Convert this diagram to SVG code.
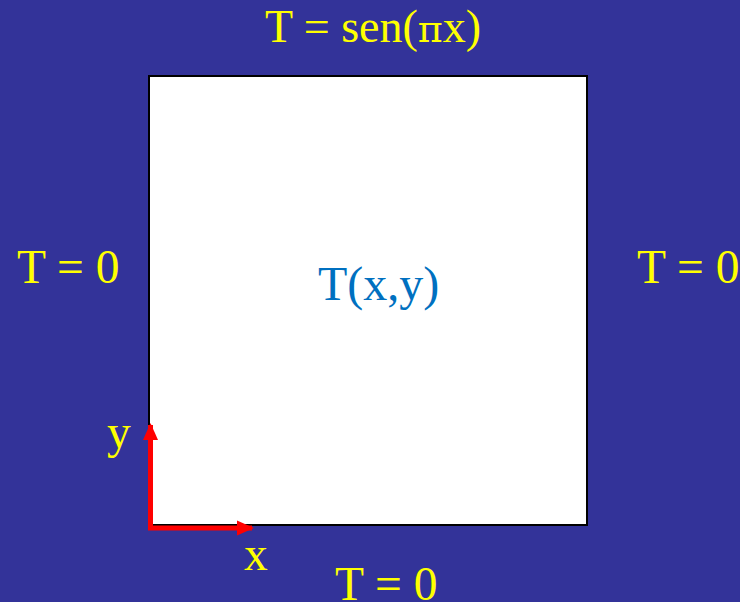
<svg xmlns="http://www.w3.org/2000/svg" width="740" height="602" viewBox="0 0 740 602">
<style>
.lbl{font-family:"Liberation Serif","Times New Roman",serif;font-size:47.5px;fill:#FFFF00}
.top{font-size:46px}
.sym{font-family:"DejaVu Serif","Liberation Serif",serif;font-size:38px}
.dom{font-family:"Liberation Serif","Times New Roman",serif;font-size:48px;fill:#0070C0}
.axis{stroke:#FF0000;stroke-width:5;fill:none}
</style>
<defs>
<marker id="arr" markerWidth="17" markerHeight="16" refX="15" refY="8" orient="auto" markerUnits="userSpaceOnUse">
<path d="M0,0.5 L17,8 L0,15.5 z" fill="#FF0000"/>
</marker>
</defs>
<rect width="740" height="602" fill="#333399"/>
<g id="domain">
<rect x="149" y="76" width="438" height="449" fill="#FFFFFF" stroke="#000000" stroke-width="2"/>
<text class="dom" x="318" y="300">T(x,y)</text>
</g>
<g id="top-bc"><text class="lbl top" x="265" y="42">T = sen(<tspan class="sym">π</tspan>x)</text></g>
<g id="left-bc"><text class="lbl" x="17" y="283">T = 0</text></g>
<g id="right-bc"><text class="lbl" x="637" y="283">T = 0</text></g>
<g id="bottom-bc"><text class="lbl" x="335" y="600">T = 0</text></g>
<g id="axes">
<line class="axis" x1="150.5" y1="530" x2="150.5" y2="425" marker-end="url(#arr)"/>
<line class="axis" x1="148" y1="528" x2="252" y2="528" marker-end="url(#arr)"/>
<text class="lbl" x="107" y="448">y</text>
<text class="lbl" x="244" y="570">x</text>
</g>
</svg>
